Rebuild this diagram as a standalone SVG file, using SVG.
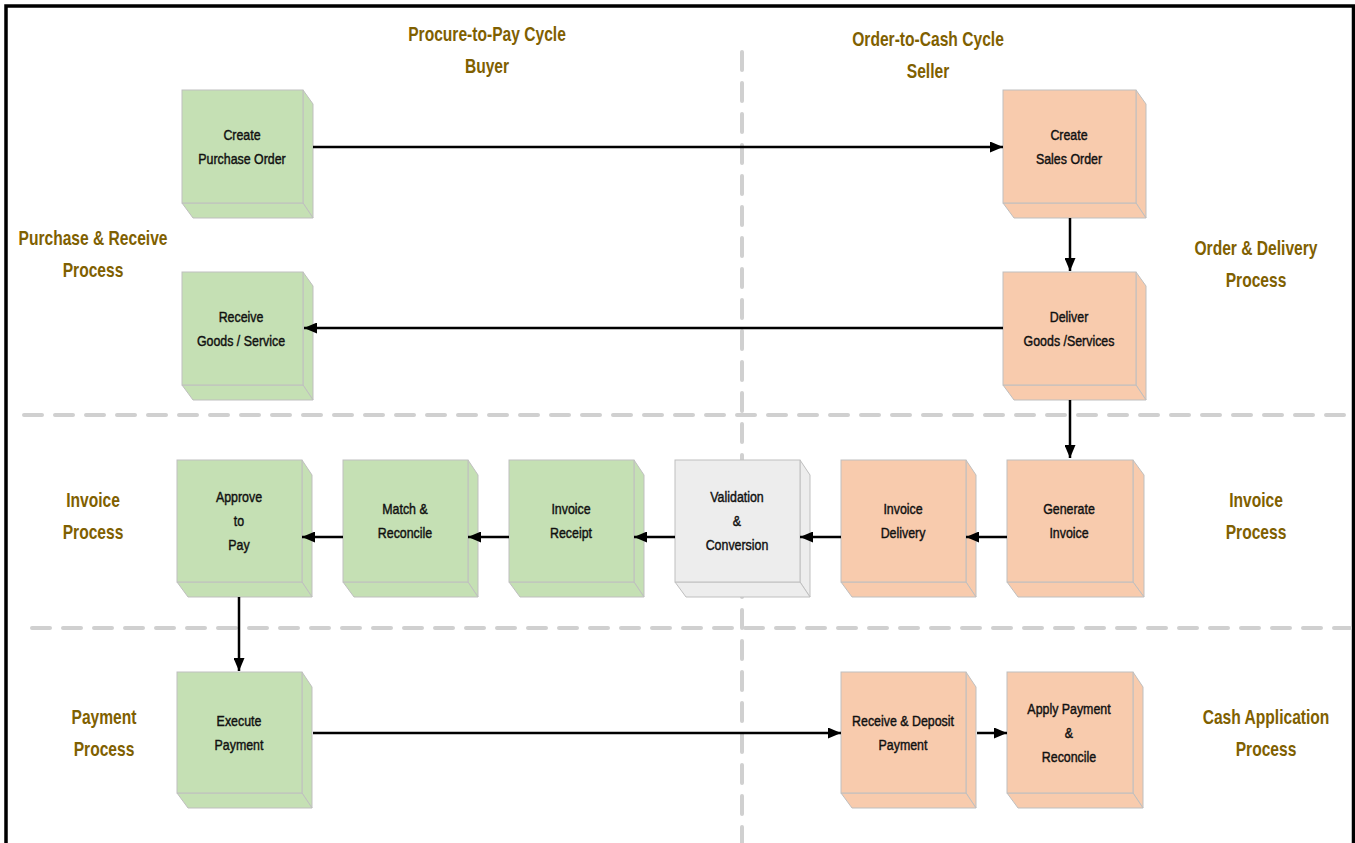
<svg xmlns="http://www.w3.org/2000/svg" width="1355" height="843" viewBox="0 0 1355 843">
<defs>
<style>
.lbl{font-family:"Liberation Sans",Arial,sans-serif;font-weight:bold;font-size:20px;fill:#7F6000;text-anchor:middle}
.bt{font-family:"Liberation Sans",Arial,sans-serif;font-size:15.5px;fill:#111;stroke:#111;stroke-width:0.45;text-anchor:middle}
.g{fill:#C5E0B4;stroke:#BFBFBF;stroke-width:1}
.o{fill:#F8CBAD;stroke:#BFBFBF;stroke-width:1}
.w{fill:#EDEDED;stroke:#BFBFBF;stroke-width:1}
.dash{stroke:#D0D0D0;stroke-width:4;stroke-linecap:round;stroke-dasharray:18 13;fill:none}
.c{stroke:#000;stroke-width:2.5;fill:none;marker-end:url(#ah)}
</style>
<marker id="ah" markerUnits="userSpaceOnUse" markerWidth="13" markerHeight="11" refX="13" refY="5.5" orient="auto">
<path d="M0,0 L13,5.5 L0,11 z" fill="#000"/>
</marker>
</defs>
<rect x="0" y="0" width="1355" height="843" fill="#fff"/>
<path d="M6,843 V6 H1353.5 V843" fill="none" stroke="#000" stroke-width="3.5"/>

<g id="separators">
<line class="dash" x1="742" y1="52" x2="742" y2="843"/>
<line class="dash" x1="24" y1="415" x2="1350" y2="415"/>
<line class="dash" x1="32" y1="628" x2="1350" y2="628"/>
</g>

<g id="labels">
<text class="lbl" transform="translate(487,41) scale(0.78,1)"><tspan x="0">Procure-to-Pay Cycle</tspan><tspan x="0" dy="32">Buyer</tspan></text>
<text class="lbl" transform="translate(928,46) scale(0.78,1)"><tspan x="0">Order-to-Cash Cycle</tspan><tspan x="0" dy="32">Seller</tspan></text>
<text class="lbl" transform="translate(93,245) scale(0.78,1)"><tspan x="0">Purchase &amp; Receive</tspan><tspan x="0" dy="32">Process</tspan></text>
<text class="lbl" transform="translate(1256,255) scale(0.78,1)"><tspan x="0">Order &amp; Delivery</tspan><tspan x="0" dy="32">Process</tspan></text>
<text class="lbl" transform="translate(93,507) scale(0.78,1)"><tspan x="0">Invoice</tspan><tspan x="0" dy="32">Process</tspan></text>
<text class="lbl" transform="translate(1256,507) scale(0.78,1)"><tspan x="0">Invoice</tspan><tspan x="0" dy="32">Process</tspan></text>
<text class="lbl" transform="translate(104,724) scale(0.78,1)"><tspan x="0">Payment</tspan><tspan x="0" dy="32">Process</tspan></text>
<text class="lbl" transform="translate(1266,724) scale(0.78,1)"><tspan x="0">Cash Application</tspan><tspan x="0" dy="32">Process</tspan></text>
</g>

<g id="n-create-po">
<path class="g" d="M303,90 L313,104 L313,218 L303,203 Z"/>
<path class="g" d="M182,203 L303,203 L313,218 L193,218 Z"/>
<rect class="g" x="182" y="90" width="121" height="113"/>
<text class="bt" transform="translate(242,140) scale(0.8,1)"><tspan x="0">Create</tspan><tspan x="0" dy="24">Purchase Order</tspan></text>
</g>

<g id="n-create-so">
<path class="o" d="M1136,90 L1146,104 L1146,218 L1136,203 Z"/>
<path class="o" d="M1003,203 L1136,203 L1146,218 L1014,218 Z"/>
<rect class="o" x="1003" y="90" width="133" height="113"/>
<text class="bt" transform="translate(1069,140) scale(0.8,1)"><tspan x="0">Create</tspan><tspan x="0" dy="24">Sales Order</tspan></text>
</g>

<g id="n-receive-goods">
<path class="g" d="M303,272 L313,286 L313,400 L303,385 Z"/>
<path class="g" d="M182,385 L303,385 L313,400 L193,400 Z"/>
<rect class="g" x="182" y="272" width="121" height="113"/>
<text class="bt" transform="translate(241,322) scale(0.8,1)"><tspan x="0">Receive</tspan><tspan x="0" dy="24">Goods / Service</tspan></text>
</g>

<g id="n-deliver-goods">
<path class="o" d="M1136,272 L1146,286 L1146,400 L1136,385 Z"/>
<path class="o" d="M1003,385 L1136,385 L1146,400 L1014,400 Z"/>
<rect class="o" x="1003" y="272" width="133" height="113"/>
<text class="bt" transform="translate(1069,322) scale(0.8,1)"><tspan x="0">Deliver</tspan><tspan x="0" dy="24">Goods /Services</tspan></text>
</g>

<g id="n-approve">
<path class="g" d="M302,460 L312,475 L312,597 L302,582 Z"/>
<path class="g" d="M177,582 L302,582 L312,597 L188,597 Z"/>
<rect class="g" x="177" y="460" width="125" height="122"/>
<text class="bt" transform="translate(239,502) scale(0.8,1)"><tspan x="0">Approve</tspan><tspan x="0" dy="24">to</tspan><tspan x="0" dy="24">Pay</tspan></text>
</g>

<g id="n-match">
<path class="g" d="M468,460 L478,475 L478,597 L468,582 Z"/>
<path class="g" d="M343,582 L468,582 L478,597 L354,597 Z"/>
<rect class="g" x="343" y="460" width="125" height="122"/>
<text class="bt" transform="translate(405,514) scale(0.8,1)"><tspan x="0">Match &amp;</tspan><tspan x="0" dy="24">Reconcile</tspan></text>
</g>

<g id="n-invoice-receipt">
<path class="g" d="M634,460 L644,475 L644,597 L634,582 Z"/>
<path class="g" d="M509,582 L634,582 L644,597 L520,597 Z"/>
<rect class="g" x="509" y="460" width="125" height="122"/>
<text class="bt" transform="translate(571,514) scale(0.8,1)"><tspan x="0">Invoice</tspan><tspan x="0" dy="24">Receipt</tspan></text>
</g>

<g id="n-validation">
<path class="w" d="M800,460 L810,475 L810,597 L800,582 Z"/>
<path class="w" d="M675,582 L800,582 L810,597 L686,597 Z"/>
<rect class="w" x="675" y="460" width="125" height="122"/>
<text class="bt" transform="translate(737,502) scale(0.8,1)"><tspan x="0">Validation</tspan><tspan x="0" dy="24">&amp;</tspan><tspan x="0" dy="24">Conversion</tspan></text>
</g>

<g id="n-invoice-delivery">
<path class="o" d="M966,460 L976,475 L976,597 L966,582 Z"/>
<path class="o" d="M841,582 L966,582 L976,597 L852,597 Z"/>
<rect class="o" x="841" y="460" width="125" height="122"/>
<text class="bt" transform="translate(903,514) scale(0.8,1)"><tspan x="0">Invoice</tspan><tspan x="0" dy="24">Delivery</tspan></text>
</g>

<g id="n-generate-invoice">
<path class="o" d="M1133,460 L1144,475 L1144,597 L1133,582 Z"/>
<path class="o" d="M1007,582 L1133,582 L1144,597 L1018,597 Z"/>
<rect class="o" x="1007" y="460" width="126" height="122"/>
<text class="bt" transform="translate(1069,514) scale(0.8,1)"><tspan x="0">Generate</tspan><tspan x="0" dy="24">Invoice</tspan></text>
</g>

<g id="n-execute-payment">
<path class="g" d="M302,672 L312,687 L312,808 L302,793 Z"/>
<path class="g" d="M177,793 L302,793 L312,808 L188,808 Z"/>
<rect class="g" x="177" y="672" width="125" height="121"/>
<text class="bt" transform="translate(239,726) scale(0.8,1)"><tspan x="0">Execute</tspan><tspan x="0" dy="24">Payment</tspan></text>
</g>

<g id="n-receive-deposit">
<path class="o" d="M966,672 L976,687 L976,808 L966,793 Z"/>
<path class="o" d="M841,793 L966,793 L976,808 L852,808 Z"/>
<rect class="o" x="841" y="672" width="125" height="121"/>
<text class="bt" transform="translate(903,726) scale(0.8,1)"><tspan x="0">Receive &amp; Deposit</tspan><tspan x="0" dy="24">Payment</tspan></text>
</g>

<g id="n-apply-payment">
<path class="o" d="M1133,672 L1143,687 L1143,808 L1133,793 Z"/>
<path class="o" d="M1007,793 L1133,793 L1143,808 L1018,808 Z"/>
<rect class="o" x="1007" y="672" width="126" height="121"/>
<text class="bt" transform="translate(1069,714) scale(0.8,1)"><tspan x="0">Apply Payment</tspan><tspan x="0" dy="24">&amp;</tspan><tspan x="0" dy="24">Reconcile</tspan></text>
</g>

<g id="connectors">
<line class="c" x1="313" y1="147" x2="1003" y2="147"/>
<line class="c" x1="1070" y1="218" x2="1070" y2="271"/>
<line class="c" x1="1003" y1="328" x2="304" y2="328"/>
<line class="c" x1="1070" y1="400" x2="1070" y2="458"/>
<line class="c" x1="1007" y1="537" x2="966" y2="537"/>
<line class="c" x1="841" y1="537" x2="800" y2="537"/>
<line class="c" x1="675" y1="537" x2="634" y2="537"/>
<line class="c" x1="509" y1="537" x2="468" y2="537"/>
<line class="c" x1="343" y1="537" x2="302" y2="537"/>
<line class="c" x1="239" y1="597" x2="239" y2="671"/>
<line class="c" x1="313" y1="733" x2="841" y2="733"/>
<line class="c" x1="977" y1="733" x2="1007" y2="733"/>
</g>
</svg>
